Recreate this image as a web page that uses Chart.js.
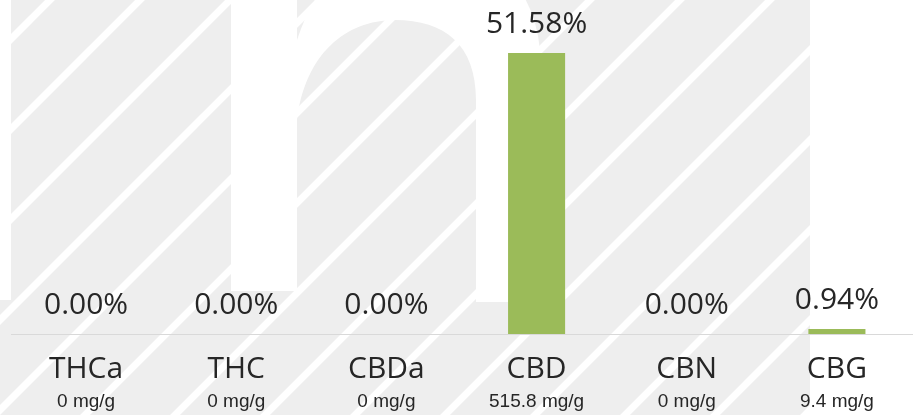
<!DOCTYPE html>
<html>
<head>
<meta charset="utf-8">
<script src="https://cdn.jsdelivr.net/npm/chart.js@4"></script>
<style>
  html, body { margin: 0; padding: 0; background: #fff; }
  #wrap { width: 914px; height: 415px; position: relative; }
</style>
</head>
<body>
<div id="wrap"><canvas id="potencyChart"></canvas></div>
<script>
const categories = ['THCa', 'THC', 'CBDa', 'CBD', 'CBN', 'CBG'];
const percentValues = [0, 0, 0, 51.58, 0, 0.94];
const mgValues = [0, 0, 0, 515.8, 0, 9.4];
const mgLabels = mgValues.map(v => v + ' mg/g');

const barColor = '#9bbb59';
const textColor = '#262626';

// watermark background: grey panel, diagonal white stripes, white logo shapes
const backdrop = {
    id: 'backdrop',
    beforeDraw(chart) {
        const ctx = chart.ctx;
        const w = chart.width, h = chart.height;
        ctx.save();
        ctx.fillStyle = '#ffffff';
        ctx.fillRect(0, 0, w, h);
        ctx.fillStyle = '#eeeeee';
        ctx.fillRect(0, 0, 810, h);

        ctx.beginPath();
        ctx.rect(0, 0, 810, h);
        ctx.clip();
        ctx.strokeStyle = '#ffffff';
        ctx.lineWidth = 7;
        for (let c = 50 - 900; c < w + h; c += 90) {
            ctx.beginPath();
            ctx.moveTo(c + 10, -10);
            ctx.lineTo(c - h - 10, h + 10);
            ctx.stroke();
        }

        ctx.fillStyle = '#ffffff';
        ctx.fillRect(0, 0, 11, 300);
        ctx.fillRect(231, 0, 66, 291);
        ctx.beginPath();
        ctx.moveTo(297, 40);
        ctx.quadraticCurveTo(330, -60, 420, -55);
        ctx.quadraticCurveTo(530, -50, 540, 50);
        ctx.lineTo(540, 302);
        ctx.lineTo(476, 302);
        ctx.lineTo(476, 100);
        ctx.bezierCurveTo(476, 45, 445, 20, 395, 20);
        ctx.bezierCurveTo(345, 20, 305, 55, 297, 120);
        ctx.closePath();
        ctx.fill();
        ctx.restore();
    }
};

const valueLabels = {
    id: 'valueLabels',
    afterDatasetsDraw(chart) {
        const ctx = chart.ctx;
        const meta = chart.getDatasetMeta(0);
        ctx.save();
        ctx.font = '30px "Open Sans"';
        ctx.fillStyle = textColor;
        ctx.textAlign = 'center';
        ctx.textBaseline = 'alphabetic';
        meta.data.forEach((bar, i) => {
            ctx.fillText(percentValues[i].toFixed(2) + '%', bar.x, bar.y - 20);
        });
        ctx.restore();
    }
};

Chart.defaults.font.family = '"Open Sans", sans-serif';
Chart.defaults.color = textColor;

new Chart(document.getElementById('potencyChart'), {
    type: 'bar',
    data: {
        labels: categories,
        datasets: [{
            data: percentValues,
            backgroundColor: barColor,
            borderWidth: 0,
            barPercentage: 0.5,
            categoryPercentage: 0.76,
            xAxisID: 'x'
        }]
    },
    options: {
        responsive: true,
        maintainAspectRatio: false,
        animation: false,
        layout: { padding: { top: 7, left: 11, right: 2, bottom: 2 } },
        plugins: {
            legend: { display: false },
            tooltip: { enabled: false }
        },
        scales: {
            y: {
                display: false,
                min: 0,
                max: 60
            },
            x: {
                position: 'bottom',
                grid: { display: false, drawTicks: false },
                border: { display: true, color: '#d9d9d9', width: 1 },
                ticks: {
                    padding: 17,
                    color: textColor,
                    font: { family: '"Open Sans"', size: 30 },
                    maxRotation: 0,
                    autoSkip: false
                },
                afterFit(scale) { scale.height = 53; }
            },
            x2: {
                type: 'category',
                position: 'bottom',
                labels: mgLabels,
                offset: true,
                grid: { display: false, drawTicks: false },
                border: { display: false },
                ticks: {
                    padding: 3,
                    color: textColor,
                    font: { family: '"Liberation Sans"', size: 19 },
                    maxRotation: 0,
                    autoSkip: false
                },
                afterFit(scale) { scale.height = 26; }
            }
        }
    },
    plugins: [backdrop, valueLabels]
});
</script>
</body>
</html>
